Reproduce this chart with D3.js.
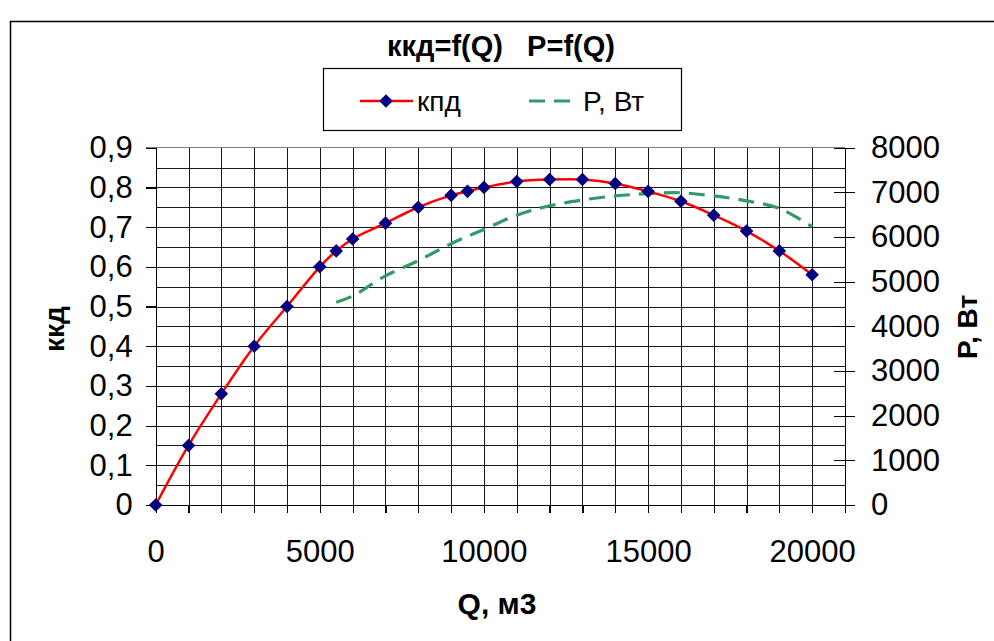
<!DOCTYPE html>
<html>
<head>
<meta charset="utf-8">
<script src="https://cdn.jsdelivr.net/npm/d3@7"></script>
<style>
  html, body { margin: 0; padding: 0; background: #fff; }
  svg { display: block; }
  text { font-family: "Liberation Sans", Arial, sans-serif; fill: #000; }
</style>
</head>
<body>
<svg id="chart" width="994" height="641"></svg>
<script>
// ---- data ----
const qEff = [0,1000,2000,3000,4000,5000,5500,6000,7000,8000,9000,9500,10000,11000,12000,13000,14000,15000,16000,17000,18000,19000,20000];
const effValues = [0,0.15,0.28,0.40,0.50,0.60,0.64,0.67,0.71,0.75,0.78,0.79,0.80,0.815,0.82,0.82,0.81,0.79,0.765,0.73,0.69,0.64,0.58];
const qPower = [5500,6000,7000,8000,9000,10000,11000,12000,13000,14000,15000,16000,17000,18000,19000,20000];
const powerValues = [4540,4680,5130,5470,5850,6170,6490,6700,6830,6920,6970,6990,6920,6810,6640,6230];
const xTickValues = [0,5000,10000,15000,20000];
const leftTickValues = [0,0.1,0.2,0.3,0.4,0.5,0.6,0.7,0.8,0.9];
const rightTickValues = [0,1000,2000,3000,4000,5000,6000,7000,8000];
const titleText = "ккд=f(Q)   P=f(Q)";
const seriesNames = ["кпд", "P, Вт"];
const xTitle = "Q, м3", yLeftTitle = "ккд", yRightTitle = "P, Вт";

// ---- layout ----
const svg = d3.select("#chart");
const L = 155.7, R = 845, T = 147.7, B = 505;
const x = d3.scaleLinear().domain([0, 21000]).range([L, R]);
const yL = d3.scaleLinear().domain([0, 0.9]).range([B, T]);
const yR = d3.scaleLinear().domain([0, 8000]).range([B, T]);
const loc = d3.formatLocale({decimal: ",", thousands: "", grouping: [3], currency: ["", ""]});
const fmtL = loc.format(".1~f");
const FS = 31;

// outer border
svg.append("rect").attr("x", 10.5).attr("y", 21.5).attr("width", 992).attr("height", 630)
  .attr("fill", "#fff").attr("stroke", "#000").attr("stroke-width", 1.5);

// grid
const gridV = svg.append("g").attr("transform", `translate(0,${B})`)
  .call(d3.axisBottom(x).tickValues(d3.range(1000, 21000, 1000)).tickSize(-(B - T)).tickFormat(""));
const gridH = svg.append("g").attr("transform", `translate(${L},0)`)
  .call(d3.axisLeft(yL).tickValues(d3.range(1, 18).map(i => i * 0.05)).tickSize(-(R - L)).tickFormat(""));
[gridV, gridH].forEach(g => {
  g.select(".domain").remove();
  g.selectAll("line").attr("stroke", "#1a1a1a").attr("stroke-width", 1).attr("shape-rendering", "crispEdges");
});
// top border of plot
svg.append("line").attr("x1", L - 10).attr("x2", R).attr("y1", T).attr("y2", T)
  .attr("stroke", "#808080").attr("stroke-width", 1.5).attr("shape-rendering", "crispEdges");

// left axis
const axL = svg.append("g").attr("transform", `translate(${L},0)`)
  .call(d3.axisLeft(yL).tickValues(leftTickValues).tickSize(10).tickPadding(13).tickFormat(fmtL));
// bottom axis
const axB = svg.append("g").attr("transform", `translate(0,${B})`)
  .call(d3.axisBottom(x).tickValues(xTickValues).tickSize(8).tickPadding(27).tickFormat(d3.format("d")));
const axBm = svg.append("g").attr("transform", `translate(0,${B})`)
  .call(d3.axisBottom(x).tickValues(d3.range(0, 22000, 1000)).tickSize(8).tickFormat(""));
axBm.select(".domain").remove();
// right axis
const axR = svg.append("g").attr("transform", `translate(${R},0)`)
  .call(d3.axisRight(yR).tickValues(rightTickValues).tickSize(10).tickPadding(16).tickFormat(d3.format("d")));
axR.selectAll(".tick line").attr("x1", -11);

[axL, axB, axBm, axR].forEach(g => {
  g.select(".domain").attr("stroke", "#000").attr("stroke-width", 1.3).attr("shape-rendering", "crispEdges");
  g.selectAll(".tick line").attr("stroke", "#000").attr("stroke-width", 1.2).attr("shape-rendering", "crispEdges");
  g.selectAll("text").attr("font-size", FS).attr("font-family", "Liberation Sans, Arial, sans-serif").attr("fill", "#000");
});

// series
const effData = qEff.map((q, i) => [q, effValues[i]]);
const powData = qPower.map((q, i) => [q, powerValues[i]]);
svg.append("path").datum(powData)
  .attr("d", d3.line().x(d => x(d[0])).y(d => yR(d[1])).curve(d3.curveCatmullRom))
  .attr("fill", "none").attr("stroke", "#339966").attr("stroke-width", 3.2).attr("stroke-dasharray", "16,9");
svg.append("path").datum(effData)
  .attr("d", d3.line().x(d => x(d[0])).y(d => yL(d[1])).curve(d3.curveCatmullRom))
  .attr("fill", "none").attr("stroke", "#ff0000").attr("stroke-width", 2.5);
const diamond = "M0,-6.8L6.8,0L0,6.8L-6.8,0Z";
svg.append("g").selectAll("path").data(effData).join("path")
  .attr("transform", d => `translate(${x(d[0])},${yL(d[1])})`)
  .attr("d", diamond).attr("fill", "#000080");

// titles
svg.append("text").attr("x", 501).attr("y", 56).attr("text-anchor", "middle")
  .attr("font-size", 29).attr("font-weight", "bold").attr("xml:space", "preserve").style("white-space", "pre").text(titleText);
svg.append("text").attr("x", 497).attr("y", 614).attr("text-anchor", "middle")
  .attr("font-size", 30).attr("font-weight", "bold").text(xTitle);
svg.append("text").attr("transform", "translate(64,329) rotate(-90)").attr("text-anchor", "middle")
  .attr("font-size", 28).attr("font-weight", "bold").text(yLeftTitle);
svg.append("text").attr("transform", "translate(977,327) rotate(-90)").attr("text-anchor", "middle")
  .attr("font-size", 28).attr("font-weight", "bold").text(yRightTitle);

// legend
const lg = svg.append("g");
lg.append("rect").attr("x", 323.5).attr("y", 68.5).attr("width", 358).attr("height", 62)
  .attr("fill", "#fff").attr("stroke", "#000").attr("stroke-width", 1.2);
lg.append("line").attr("x1", 360).attr("x2", 413).attr("y1", 101).attr("y2", 101)
  .attr("stroke", "#ff0000").attr("stroke-width", 2.5);
lg.append("path").attr("transform", "translate(386,101)").attr("d", diamond).attr("fill", "#000080");
lg.append("text").attr("x", 417).attr("y", 111).attr("font-size", 28).text(seriesNames[0]);
lg.append("line").attr("x1", 529).attr("x2", 576).attr("y1", 101).attr("y2", 101)
  .attr("stroke", "#339966").attr("stroke-width", 3.2).attr("stroke-dasharray", "16,9");
lg.append("text").attr("x", 583).attr("y", 111).attr("font-size", 28).text(seriesNames[1]);
</script>
</body>
</html>
